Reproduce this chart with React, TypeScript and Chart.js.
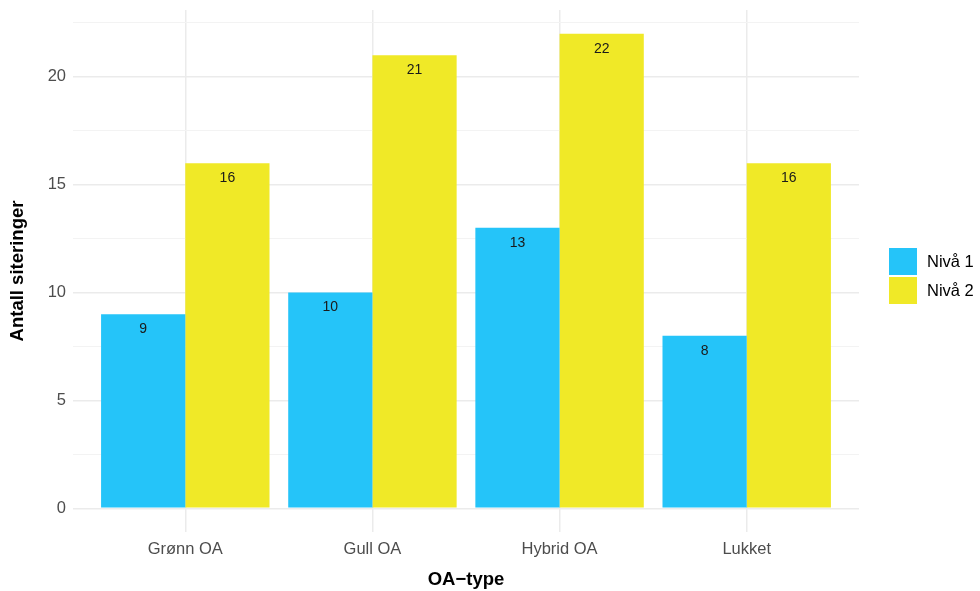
import React, { useEffect, useRef } from "react";
import { Chart, registerables } from "chart.js";

Chart.register(...registerables);

const categories = ["Grønn OA", "Gull OA", "Hybrid OA", "Lukket"];
const niva1 = [9, 10, 13, 8];
const niva2 = [16, 21, 22, 16];
const seriesNames = ["Nivå 1", "Nivå 2"];
const seriesColors = ["#25C4F9", "#F0E927"];
const yTicks = [0, 5, 10, 15, 20];

const FONT = "'Liberation Sans', Arial, Helvetica, sans-serif";

const labelPlugin = {
  id: "barLabels",
  afterDatasetsDraw(chart: any) {
    const ctx = chart.ctx;
    ctx.save();
    ctx.font = `14px ${FONT}`;
    ctx.fillStyle = "#1a1a1a";
    ctx.textAlign = "center";
    ctx.textBaseline = "middle";
    chart.data.datasets.forEach((ds: any, di: number) => {
      const meta = chart.getDatasetMeta(di);
      meta.data.forEach((el: any, i: number) => {
        const v = ds.data[i].y;
        ctx.fillText(String(v), el.x, el.y + 15);
      });
    });
    ctx.restore();
  },
};

export default function App() {
  const ref = useRef<HTMLCanvasElement | null>(null);
  useEffect(() => {
    document.body.style.margin = "0";
    const series = [niva1, niva2];
    const chart = new Chart(ref.current as HTMLCanvasElement, {
      type: "bar",
      data: {
        datasets: series.map((vals, si) => ({
          label: seriesNames[si],
          data: categories.map((_, i) => ({ x: i + 1, y: vals[i] })),
          backgroundColor: seriesColors[si],
          borderWidth: 0,
          categoryPercentage: 0.9,
          barPercentage: 1.0,
        })),
      },
      options: {
        animation: false,
        responsive: true,
        maintainAspectRatio: false,
        layout: { padding: { top: 10, right: 121, left: 0, bottom: 0 } },
        plugins: { legend: { display: false }, tooltip: { enabled: false } },
        scales: {
          x: {
            type: "linear",
            min: 0.4,
            max: 4.6,
            offset: false,
            afterFit: (s: any) => {
              s.height = 59;
              s.paddingLeft = 0;
              s.paddingRight = 0;
            },
            border: { display: false },
            grid: { color: "#EBEBEB", lineWidth: 1.5, drawTicks: false, offset: false },
            ticks: {
              stepSize: 1,
              includeBounds: false,
              autoSkip: false,
              maxRotation: 0,
              padding: 8,
              color: "#4D4D4D",
              font: { family: FONT, size: 16.5 },
              callback: (v: any) => categories[Number(v) - 1] ?? "",
            },
            title: {
              display: true,
              text: "OA−type",
              color: "#000",
              font: { family: FONT, size: 18.5, weight: "bold" },
              padding: { top: 0, bottom: 0 },
            },
          },
          y: {
            min: -1.1,
            max: 23.1,
            afterFit: (s: any) => {
              s.width = 73;
              s.paddingTop = 0;
              s.paddingBottom = 0;
            },
            border: { display: false },
            grid: {
              drawTicks: false,
              color: (c: any) =>
                yTicks.includes(c.tick?.value) ? "#EBEBEB" : "#F3F3F3",
              lineWidth: (c: any) => (yTicks.includes(c.tick?.value) ? 1.5 : 1),
            },
            ticks: {
              stepSize: 2.5,
              includeBounds: false,
              autoSkip: false,
              padding: 7,
              color: "#4D4D4D",
              font: { family: FONT, size: 16.5 },
              callback: (v: any) => (yTicks.includes(Number(v)) ? String(v) : ""),
            },
            title: {
              display: true,
              text: "Antall siteringer",
              color: "#000",
              font: { family: FONT, size: 18.5, weight: "bold" },
              padding: { top: 7, bottom: 0 },
            },
          },
        },
      },
      plugins: [labelPlugin],
    } as any);
    return () => chart.destroy();
  }, []);

  return (
    <div style={{ position: "absolute", left: 0, top: 0, width: 980, height: 591, background: "#fff" }}>
      <canvas ref={ref} />
      <div style={{ position: "absolute", left: 889, top: 247, fontFamily: FONT, fontSize: 16.5, color: "#000" }}>
        {seriesNames.map((n, i) => (
          <div key={n} style={{ display: "flex", alignItems: "center", height: 29 }}>
            <div style={{ width: 28, height: 27, background: seriesColors[i] }} />
            <span style={{ marginLeft: 10 }}>{n}</span>
          </div>
        ))}
      </div>
    </div>
  );
}
